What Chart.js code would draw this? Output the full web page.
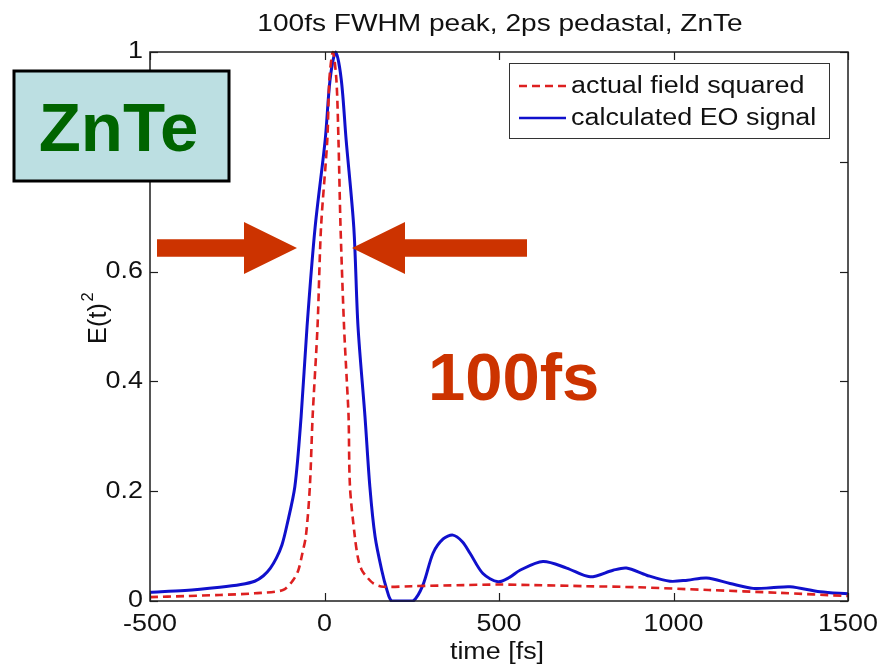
<!DOCTYPE html>
<html>
<head>
<meta charset="utf-8">
<script src="https://cdn.jsdelivr.net/npm/chart.js@4/dist/chart.umd.min.js"></script>
<style>
  html, body { margin: 0; padding: 0; background: #fff; }
  #plot { display: block; }
</style>
</head>
<body>
<canvas id="plot" width="894" height="671"></canvas>
<script>
// ---------- DATA ----------
// actual field squared (red dashed), time in fs
const fieldTime = [-500, -400, -300, -200, -119, -90, -75, -64, -53, -42, -34, -20, -10, 8, 14, 24, 34, 40, 46, 56, 64, 69, 73, 87, 97, 107, 121, 140, 168, 250, 400, 500, 600, 750, 900, 1100, 1300, 1500];
const fieldSquared = [0.007, 0.009, 0.011, 0.014, 0.020, 0.038, 0.056, 0.085, 0.120, 0.208, 0.336, 0.50, 0.68, 0.84, 0.95, 1.0, 0.95, 0.84, 0.68, 0.50, 0.40, 0.336, 0.208, 0.117, 0.075, 0.056, 0.044, 0.032, 0.026, 0.027, 0.029, 0.030, 0.029, 0.027, 0.025, 0.020, 0.015, 0.009];

// calculated EO signal (blue solid)
const eoTime = [-500, -400, -300, -240, -200, -175, -155, -138, -122, -108, -85, -67, -50, -27, 2, 16, 32, 48, 62, 84, 96, 116, 130, 145, 164, 178, 192, 220, 254, 282, 311, 340, 368, 395, 417, 454, 497, 530, 560, 626, 694, 761, 827, 865, 923, 990, 1040, 1095, 1162, 1228, 1280, 1334, 1420, 1500];
const eoSignal = [0.016, 0.019, 0.025, 0.030, 0.036, 0.046, 0.060, 0.078, 0.102, 0.137, 0.208, 0.336, 0.50, 0.68, 0.84, 0.95, 1.0, 0.95, 0.84, 0.68, 0.50, 0.336, 0.208, 0.117, 0.056, 0.022, 0.0, 0.0, 0.0, 0.029, 0.087, 0.113, 0.120, 0.108, 0.087, 0.050, 0.035, 0.043, 0.056, 0.072, 0.060, 0.044, 0.056, 0.060, 0.047, 0.036, 0.038, 0.042, 0.032, 0.023, 0.024, 0.026, 0.017, 0.013];

const seriesNames = ["actual field squared", "calculated EO signal"];
const xTicks = [-500, 0, 500, 1000, 1500];
const yTicks = [0, 0.2, 0.4, 0.6, 0.8, 1];

const RED = "#dd2020";
const BLUE = "#1010cc";
const ARROW = "#cc3300";
const FONT = '"Liberation Sans", Arial, Helvetica, sans-serif';
const SX = 1.17; // text in this figure is drawn a bit wide

// ---------- HELPERS ----------
function wideText(ctx, str, x, y, align, sx) {
  ctx.save();
  ctx.translate(x, y);
  ctx.scale(sx, 1);
  ctx.textAlign = align;
  ctx.fillText(str, 0, 0);
  ctx.restore();
}

function seg(ctx, x1, y1, x2, y2) {
  ctx.beginPath();
  ctx.moveTo(x1, y1);
  ctx.lineTo(x2, y2);
  ctx.stroke();
}

function arrow(ctx, tailX, tipX, cy) {
  // shaft + triangular head, pointing from tailX to tipX
  const dir = Math.sign(tipX - tailX);
  const headLen = 53, headHalf = 26, shaftHalf = 8.7;
  const baseX = tipX - dir * headLen;
  ctx.beginPath();
  ctx.moveTo(tailX, cy - shaftHalf);
  ctx.lineTo(baseX, cy - shaftHalf);
  ctx.lineTo(baseX, cy - headHalf);
  ctx.lineTo(tipX, cy);
  ctx.lineTo(baseX, cy + headHalf);
  ctx.lineTo(baseX, cy + shaftHalf);
  ctx.lineTo(tailX, cy + shaftHalf);
  ctx.closePath();
  ctx.fill();
}

// ---------- AXES, LABELS, NOTES ----------
const figure = {
  id: "figure",
  afterDatasetsDraw(chart) {
    const { ctx, chartArea: a, scales: { x, y } } = chart;
    ctx.save();

    // box with inward ticks on all four sides
    ctx.strokeStyle = "#1e1e1e";
    ctx.lineWidth = 1.5;
    ctx.strokeRect(a.left, a.top, a.right - a.left, a.bottom - a.top);
    ctx.lineWidth = 1.2;
    x.ticks.forEach(t => {
      const px = Math.round(x.getPixelForValue(t.value)) + 0.5;
      seg(ctx, px, a.bottom, px, a.bottom - 8);
      seg(ctx, px, a.top, px, a.top + 8);
    });
    y.ticks.forEach(t => {
      const py = Math.round(y.getPixelForValue(t.value)) + 0.5;
      seg(ctx, a.left, py, a.left + 8, py);
      seg(ctx, a.right, py, a.right - 8, py);
    });

    // tick labels
    ctx.fillStyle = "#111";
    ctx.font = "23px " + FONT;
    ctx.textBaseline = "middle";
    y.ticks.forEach(t => {
      const lbl = String(parseFloat(t.value.toFixed(1)));
      wideText(ctx, lbl, a.left - 7, y.getPixelForValue(t.value), "right", SX);
    });
    x.ticks.forEach(t => {
      wideText(ctx, String(t.value), x.getPixelForValue(t.value), a.bottom + 24, "center", SX);
    });

    // title and axis labels
    ctx.textBaseline = "alphabetic";
    ctx.font = "24px " + FONT;
    wideText(ctx, "100fs FWHM peak, 2ps pedastal, ZnTe", (a.left + a.right) / 2 + 1, 31, "center", SX);
    ctx.font = "23px " + FONT;
    wideText(ctx, "time [fs]", (a.left + a.right) / 2 - 2, 659, "center", SX);

    ctx.save();
    ctx.translate(106, 318);
    ctx.rotate(-Math.PI / 2);
    ctx.scale(1.1, 1.15);
    ctx.font = "23px " + FONT;
    ctx.textAlign = "center";
    ctx.fillText("E(t)", -5, 0);
    ctx.font = "15px " + FONT;
    ctx.textAlign = "left";
    ctx.fillText("2", 15, -11);
    ctx.restore();

    // legend
    const lx = 509, ly = 63, lw = 320, lh = 75;
    ctx.fillStyle = "#fff";
    ctx.fillRect(lx, ly, lw, lh);
    ctx.strokeStyle = "#333";
    ctx.lineWidth = 1;
    ctx.strokeRect(lx + 0.5, ly + 0.5, lw, lh);
    const rows = [86, 118];
    chart.data.datasets.forEach((ds, i) => {
      ctx.strokeStyle = ds.borderColor;
      ctx.lineWidth = 2.5;
      ctx.setLineDash(ds.borderDash || []);
      seg(ctx, 519, rows[i], 566, rows[i]);
      ctx.setLineDash([]);
      ctx.fillStyle = "#111";
      ctx.font = "23px " + FONT;
      ctx.textBaseline = "middle";
      wideText(ctx, ds.label, 571, rows[i] + 1, "left", SX);
    });

    // material tag
    ctx.fillStyle = "#bcdfe2";
    ctx.fillRect(14, 71, 215, 110);
    ctx.strokeStyle = "#000";
    ctx.lineWidth = 3;
    ctx.strokeRect(14, 71, 215, 110);
    ctx.fillStyle = "#006400";
    ctx.font = "bold 69px " + FONT;
    ctx.textBaseline = "alphabetic";
    ctx.textAlign = "center";
    ctx.fillText("ZnTe", 118.5, 151);

    // width markers
    ctx.fillStyle = ARROW;
    arrow(ctx, 157, 297, 248);
    arrow(ctx, 527, 352, 248);
    ctx.font = "bold 67px " + FONT;
    ctx.textAlign = "left";
    ctx.fillText("100fs", 428, 400);

    ctx.restore();
  }
};

// ---------- CHART ----------
const ctx = document.getElementById("plot").getContext("2d");

// keep the curves from spilling below the x axis where the spline overshoots
const plotClip = { left: false, right: false, top: false, bottom: 1 };

new Chart(ctx, {
  type: "line",
  data: {
    datasets: [
      {
        label: seriesNames[0],
        data: fieldTime.map((t, i) => ({ x: t, y: fieldSquared[i] })),
        borderColor: RED,
        borderWidth: 2.6,
        borderDash: [8, 5],
        pointRadius: 0,
        tension: 0.3,
        clip: plotClip
      },
      {
        label: seriesNames[1],
        data: eoTime.map((t, i) => ({ x: t, y: eoSignal[i] })),
        borderColor: BLUE,
        borderWidth: 3,
        pointRadius: 0,
        tension: 0.3,
        clip: plotClip
      }
    ]
  },
  options: {
    responsive: false,
    animation: false,
    layout: { padding: { top: 52, right: 46, bottom: 0, left: 0 } },
    plugins: {
      legend: { display: false },
      title: { display: false },
      tooltip: { enabled: false }
    },
    scales: {
      x: {
        type: "linear",
        min: xTicks[0],
        max: xTicks[xTicks.length - 1],
        afterBuildTicks: s => { s.ticks = xTicks.map(v => ({ value: v })); },
        grid: { display: false },
        border: { display: false },
        ticks: { display: false },
        afterFit: s => { s.height = 70; }
      },
      y: {
        type: "linear",
        min: yTicks[0],
        max: yTicks[yTicks.length - 1],
        afterBuildTicks: s => { s.ticks = yTicks.map(v => ({ value: v })); },
        grid: { display: false },
        border: { display: false },
        ticks: { display: false },
        afterFit: s => { s.width = 150; }
      }
    }
  },
  plugins: [figure]
});
</script>
</body>
</html>
